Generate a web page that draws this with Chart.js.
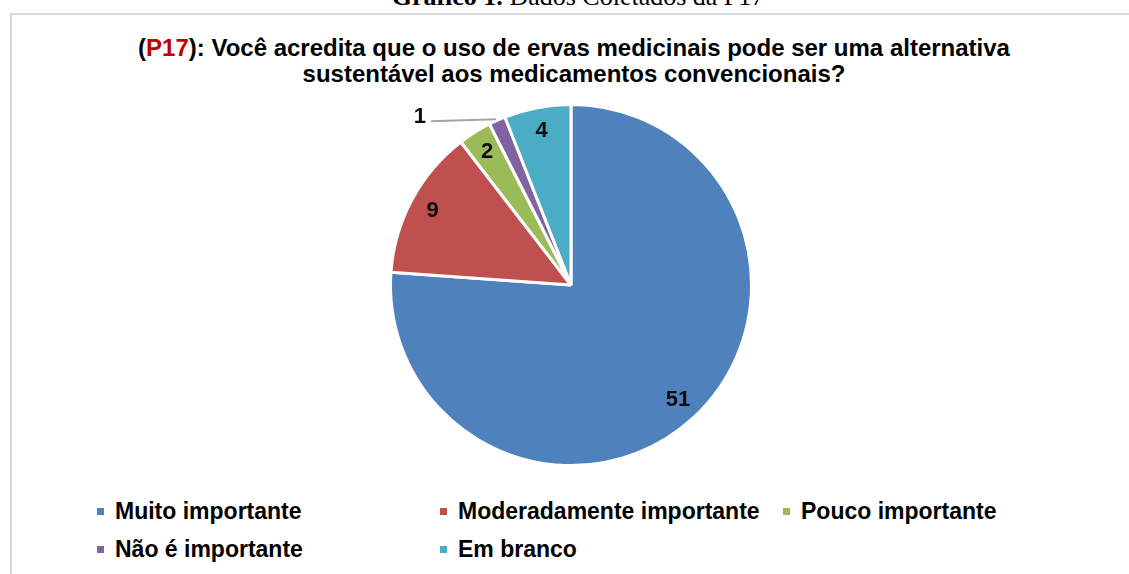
<!DOCTYPE html>
<html>
<head>
<meta charset="utf-8">
<script src="https://cdn.jsdelivr.net/npm/chart.js@4.4.0/dist/chart.umd.min.js"></script>
<style>
  body { margin: 0; width: 1129px; height: 574px; overflow: hidden; background: #fff; position: relative; font-family: "Liberation Sans", Arial, sans-serif; }
  .caixa { position: absolute; left: 10px; top: 13px; width: 1140px; height: 600px; border: 2px solid #d9d9d9; box-sizing: border-box; }
  .rotulo { position: absolute; left: 0; top: -16px; width: 1156px; text-align: center; font-family: "Liberation Serif", "Times New Roman", serif; font-size: 26px; line-height: 26px; color: #000; }
  .titulo { position: absolute; left: 10px; top: 35px; width: 1128px; text-align: center; font-weight: bold; font-size: 24px; line-height: 26px; color: #000; }
  .titulo span { color: #c00000; }
  #graficoTorta { position: absolute; left: 379px; top: 93px; }
  .leg { position: absolute; left: 97px; top: 492px; display: grid; grid-template-columns: 343px 343px 343px; grid-auto-rows: 38px; }
  .leg div { display: flex; align-items: center; font-weight: bold; font-size: 23px; color: #000; white-space: nowrap; }
  .leg i { display: inline-block; width: 7px; height: 7px; margin-right: 11px; }
</style>
</head>
<body>
<div class="rotulo"><b>Gráfico 1.</b> Dados Coletados da P17</div>
<div class="caixa"></div>
<div class="titulo">(<span>P17</span>): Você acredita que o uso de ervas medicinais pode ser uma alternativa<br>sustentável aos medicamentos convencionais?</div>
<canvas id="graficoTorta" width="384" height="384"></canvas>
<div class="leg" id="legendaItens"></div>
<script>
  var categorias = ['Muito importante', 'Moderadamente importante', 'Pouco importante', 'Não é importante', 'Em branco'];
  var respostas = [51, 9, 2, 1, 4];
  var cores = ['#4f81bd', '#c0504d', '#9bbb59', '#8064a2', '#4bacc6'];

  /* rotulos de dados dentro das fatias, e fora (com linha) nas fatias pequenas */
  var rotulosDados = {
    id: 'rotulosDados',
    afterDatasetsDraw: function (chart) {
      var ctx = chart.ctx;
      var meta = chart.getDatasetMeta(0);
      var dados = chart.data.datasets[0].data;
      var total = dados.reduce(function (a, b) { return a + b; }, 0);
      ctx.save();
      ctx.font = 'bold 22px "Liberation Sans", Arial, sans-serif';
      ctx.fillStyle = '#0d0d0d';
      ctx.textBaseline = 'middle';
      for (var i = 0; i < meta.data.length; i++) {
        var arco = meta.data[i];
        var meio = (arco.startAngle + arco.endAngle) / 2;
        if (dados[i] / total < 0.02) {
          var ax = arco.x + Math.cos(meio) * arco.outerRadius;
          var ay = arco.y + Math.sin(meio) * arco.outerRadius;
          ctx.strokeStyle = '#a6a6a6';
          ctx.lineWidth = 2;
          ctx.beginPath();
          ctx.moveTo(ax - 1, ay - 1);
          ctx.lineTo(ax - 66, ay + 1);
          ctx.stroke();
          ctx.textAlign = 'right';
          ctx.fillText(dados[i], ax - 71, ay - 3);
        } else {
          var r = arco.outerRadius * 0.87;
          ctx.textAlign = 'center';
          ctx.fillText(dados[i], arco.x + Math.cos(meio) * r, arco.y + Math.sin(meio) * r);
        }
      }
      ctx.restore();
    }
  };

  var ctx = document.getElementById("graficoTorta").getContext("2d");
  var graficoTorta = new Chart(ctx, {
    type: 'pie',
    data: {
      labels: categorias,
      datasets: [{
        label: 'P17',
        data: respostas,
        backgroundColor: cores,
        borderColor: '#ffffff',
        borderWidth: 3
      }]
    },
    options: {
      responsive: false,
      animation: false,
      layout: { padding: 10 },
      plugins: {
        legend: { display: false },
        tooltip: { enabled: false }
      }
    },
    plugins: [rotulosDados]
  });

  /* legenda em grade, como no Excel */
  var itens = graficoTorta.options.plugins.legend.labels.generateLabels(graficoTorta);
  var caixaLegenda = document.getElementById('legendaItens');
  for (var i = 0; i < itens.length; i++) {
    var el = document.createElement('div');
    var marca = document.createElement('i');
    marca.style.background = itens[i].fillStyle;
    el.appendChild(marca);
    el.appendChild(document.createTextNode(itens[i].text));
    caixaLegenda.appendChild(el);
  }
</script>
</body>
</html>
